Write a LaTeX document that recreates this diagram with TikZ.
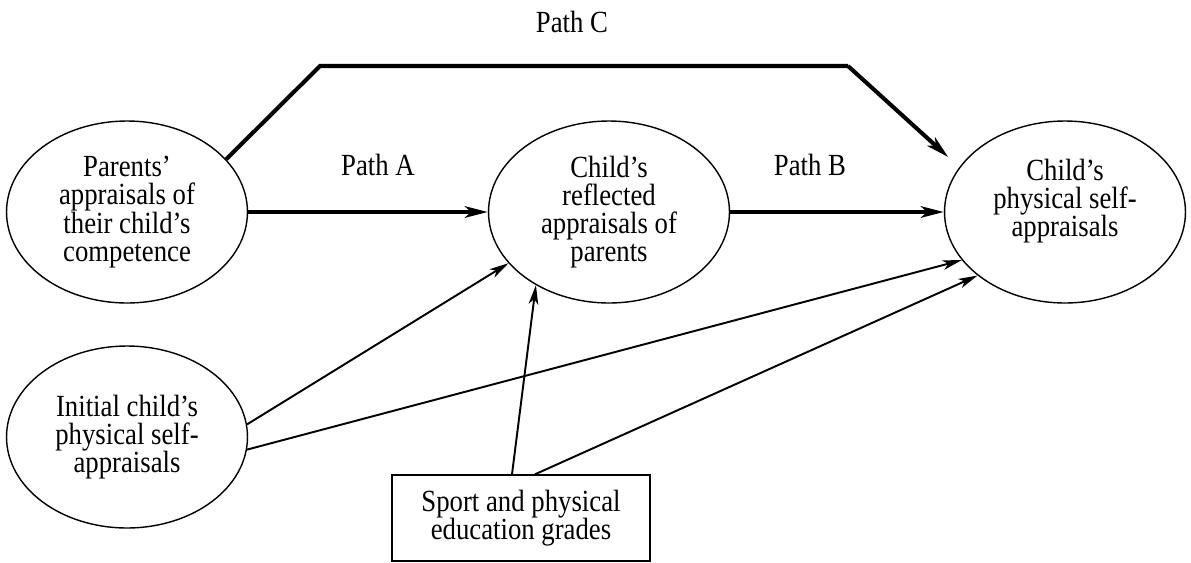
\documentclass[tikz,border=0pt]{standalone}
\usepackage{fontspec}
\setmainfont{Liberation Serif}[FakeStretch=0.87]
\usetikzlibrary{arrows.meta,positioning,shapes.geometric}

\begin{document}
\begin{tikzpicture}
	[x=0.02cm,y=-0.02cm,
	every node/.style={font=\fontsize{17.5}{16}\selectfont},
	main node/.style={shape=ellipse,draw,line width=0.8pt,minimum width=4.82cm,minimum height=3.64cm,inner sep=0pt,align=center},
	grade node/.style={shape=rectangle,draw,line width=0.8pt,minimum width=5.16cm,minimum height=1.72cm,inner sep=0pt,align=center},
	path node/.style={inner sep=0pt},
	thin edge/.style={line width=1.1pt,-{Stealth[length=11pt,width=5.5pt,inset=3pt]}},
	thick edge/.style={line width=2.3pt,-{Stealth[length=13pt,width=6.5pt,inset=3.5pt]}}]
	\useasboundingbox (0,0) rectangle (1191,562);
	\node [main node] (par) at (127,212) {Parents'\\appraisals of\\their child's\\competence};
	\node [main node] (refl) at (609,212) {Child's\\reflected\\appraisals of\\parents};
	\node [main node] (self) at (1065,212) {Child's\\physical self-\\appraisals\\\mbox{}};
	\node [main node] (init) at (127,437) {Initial child's\\physical self-\\appraisals};
	\node [grade node] (grade) at (521,518) {Sport and physical\\education grades};
	
	\node [path node] (pa) at (378,165) {Path A};
	\node [path node] (pb) at (810,165) {Path B};
	\node [path node] (pc) at (572,22) {Path C};
	
	\coordinate (c1) at (320,66);
	\coordinate (c2) at (848,66);
	
	\path
	(par) edge [thick edge] (refl)
	(refl) edge [thick edge] (self)
	(c2) edge [thick edge,shorten >=0.3cm] (self.157)
	;
	\draw [line width=2.3pt] (par.28) -- (c1) -- (c2);
	
	\path
	(init.6) edge [thin edge] (refl.207)
	(init.-6) edge [thin edge] (self.205)
	([xshift=-0.18cm]grade.north) edge [thin edge] (refl.225)
	([xshift=0.28cm]grade.north) edge [thin edge] (self.216)
	;
	
\end{tikzpicture}
\end{document}
